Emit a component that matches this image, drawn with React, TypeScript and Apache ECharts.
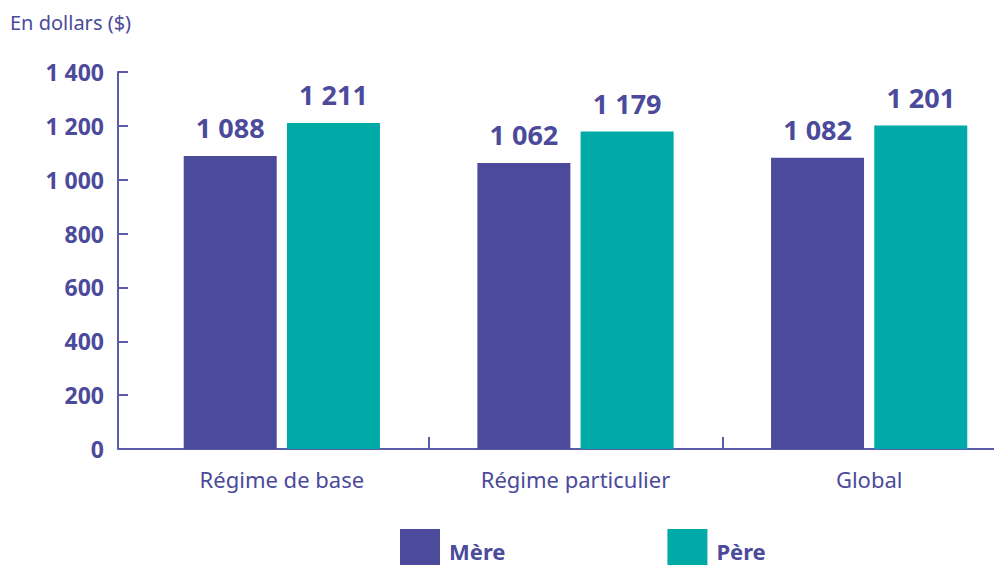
import React, { useEffect, useRef } from "react";
import * as echarts from "echarts";

const categories = ["Régime de base", "Régime particulier", "Global"];
const mereValues = [1088, 1062, 1082];
const pereValues = [1211, 1179, 1201];
const seriesNames = ["Mère", "Père"];
const yTicks = { min: 0, max: 1400, interval: 200 };

const PURPLE = "#4B4A9B";
const TEAL = "#00AAA6";
const TEXT = "#4B4A9B";
const AXIS = "#5B5BAB";
const FONT = "'Noto Sans', sans-serif";

const fmt = (v: number) => String(v).replace(/\B(?=(\d{3})+(?!\d))/g, " ");

export default function App() {
  const ref = useRef<HTMLDivElement>(null);
  useEffect(() => {
    if (!ref.current) return;
    const chart = echarts.init(ref.current, null, { renderer: "svg" });
    const barLabel = {
      show: true,
      position: "top" as const,
      distance: 15,
      color: TEXT,
      fontSize: 27,
      fontWeight: "bold" as const,
      fontFamily: FONT,
      formatter: (p: any) => fmt(p.value),
    };
    chart.setOption({
      animation: false,
      textStyle: { fontFamily: FONT },
      title: {
        text: "En dollars ($)",
        left: 5,
        top: 7,
        textStyle: { color: TEXT, fontSize: 20, fontWeight: "normal", fontFamily: FONT },
      },
      legend: {
        data: seriesNames,
        left: 400,
        top: 529,
        padding: 0,
        itemWidth: 40,
        itemHeight: 36,
        itemGap: 162,
        icon: "rect",
        formatter: (name: string) => `{t|${name}}`,
        textStyle: {
          color: TEXT,
          fontSize: 22,
          fontWeight: "bold",
          fontFamily: FONT,
          rich: {
            t: {
              color: TEXT,
              fontSize: 22,
              fontWeight: "bold",
              fontFamily: FONT,
              padding: [8, 0, 0, 4],
            },
          },
        },
      },
      grid: { left: 135, top: 72, right: 0, height: 377, containLabel: false },
      xAxis: {
        type: "category",
        data: categories,
        axisLine: { lineStyle: { color: AXIS, width: 2 } },
        axisTick: {
          show: true,
          inside: true,
          length: 12,
          lineStyle: { color: AXIS, width: 2 },
          interval: (i: number) => i > 0,
        },
        axisLabel: { color: TEXT, fontSize: 22, margin: 19, fontFamily: FONT },
      },
      yAxis: {
        type: "value",
        min: yTicks.min,
        max: yTicks.max,
        interval: yTicks.interval,
        offset: 17,
        axisLine: { show: true, lineStyle: { color: AXIS, width: 2 } },
        axisTick: { show: true, inside: true, length: 10, lineStyle: { color: AXIS, width: 2 } },
        splitLine: { show: false },
        axisLabel: {
          color: TEXT,
          fontSize: 23,
          fontWeight: "bold",
          margin: 14,
          fontFamily: FONT,
          formatter: (v: number) => fmt(v),
        },
      },
      graphic: [
        {
          type: "line",
          shape: { x1: 118, y1: 449, x2: 136, y2: 449 },
          style: { stroke: AXIS, lineWidth: 2 },
        },
      ],
      series: [
        {
          name: seriesNames[0],
          type: "bar",
          data: mereValues,
          barWidth: 93,
          barGap: "11%",
          itemStyle: { color: PURPLE },
          label: barLabel,
        },
        {
          name: seriesNames[1],
          type: "bar",
          data: pereValues,
          barWidth: 93,
          barGap: "11%",
          itemStyle: { color: TEAL },
          label: barLabel,
        },
      ],
    });
    return () => chart.dispose();
  }, []);
  return (
    <div style={{ position: "absolute", left: 0, top: 0, width: 994, height: 565, overflow: "hidden" }}>
      <div ref={ref} style={{ width: 1016, height: 565 }} />
    </div>
  );
}
